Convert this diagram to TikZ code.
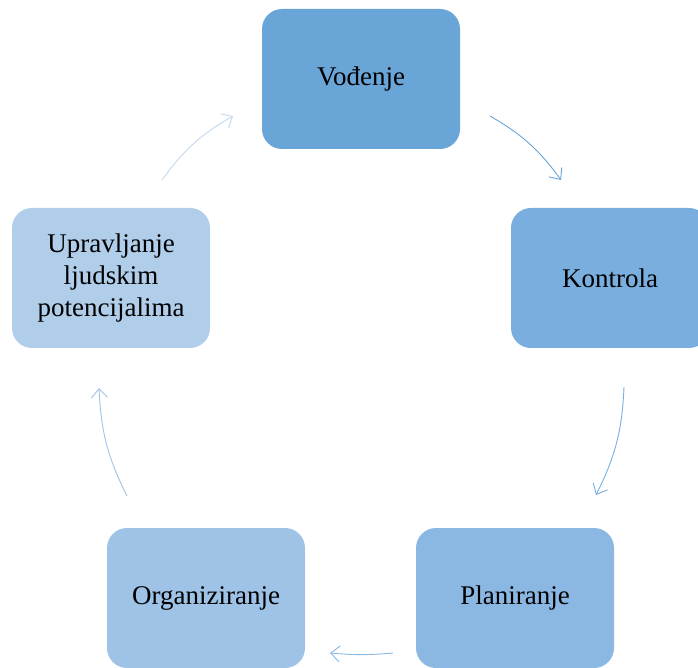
\documentclass[tikz,border=0pt]{standalone}
\usepackage{fontspec}
\setmainfont{Liberation Serif}
\usetikzlibrary{arrows.meta}
\definecolor{cA}{HTML}{6AA5D8}
\definecolor{cB}{HTML}{7AAEDE}
\definecolor{cC}{HTML}{8BB8E2}
\definecolor{cD}{HTML}{9EC3E6}
\definecolor{cE}{HTML}{B0CDEA}
\definecolor{aE}{HTML}{C3D9EE}
\tikzset{
  box/.style={rounded corners=20pt, minimum width=198pt, minimum height=140pt, inner sep=0pt,
    align=center, font=\fontsize{27}{32}\selectfont, text=black},
  cyc/.style={line width=0.9pt, -{Straight Barb[length=9pt,width=16pt,line width=0.9pt]}, bend left=12}
}
\begin{document}
\begin{tikzpicture}[x=1pt,y=1pt]
\useasboundingbox (0,0) rectangle (698,667);
\clip (0,0) rectangle (698,667);
\node[box, fill=cA] (vod) at (361,588) {Vođenje};
\node[box, fill=cB] (kon) at (610,389) {Kontrola};
\node[box, fill=cC] (pla) at (515,69) {Planiranje};
\node[box, fill=cD] (org) at (206,69) {Organiziranje};
\node[box, fill=cE] (upr) at (111,389) {Upravljanje\\ljudskim\\potencijalima};
\coordinate (a1) at (490,551); \coordinate (b1) at (561,487);
\coordinate (a2) at (624,280); \coordinate (b2) at (596,172);
\coordinate (a3) at (393,14);  \coordinate (b3) at (330,14);
\coordinate (a4) at (127,171); \coordinate (b4) at (99,279);
\coordinate (a5) at (162,487); \coordinate (b5) at (233,551);
\draw[cyc, draw=cA] (a1) to (b1);
\draw[cyc, draw=cB] (a2) to (b2);
\draw[cyc, draw=cC, bend left=5] (a3) to (b3);
\draw[cyc, draw=cD] (a4) to (b4);
\draw[cyc, draw=aE] (a5) to (b5);
\end{tikzpicture}
\end{document}
